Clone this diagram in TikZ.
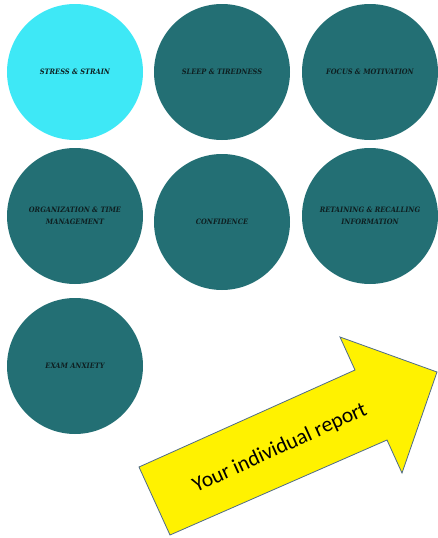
\documentclass[tikz,border=0pt]{standalone}
\usepackage{fontspec}
\setmainfont{DejaVu Serif Condensed}
\newfontfamily\arrowfont{Carlito}
\definecolor{topiclight}{HTML}{3EE8F6}
\definecolor{topicdark}{HTML}{236F74}
\definecolor{topictext}{HTML}{0E1F21}
\definecolor{arrowedge}{HTML}{4F6B88}

\begin{document}
\begin{tikzpicture}[x=1pt,y=-1pt,
        topic/.style={circle,fill=topicdark,minimum size=136pt,inner sep=0pt,align=center,
            text=topictext,font=\fontsize{7.4}{12}\selectfont\bfseries\itshape},
        current/.style={topic,fill=topiclight}]
                \useasboundingbox (0,0) rectangle (437,538);
                \node[current] (stress) at (75,72) {STRESS \& STRAIN};
                \node[topic] (sleep) at (222,72) {SLEEP \& TIREDNESS};
                \node[topic] (focus) at (370,72) {FOCUS \& MOTIVATION};
                \node[topic] (organize) at (75,216) {ORGANIZATION \& TIME\\MANAGEMENT};
                \node[topic] (confidence) at (222,222) {CONFIDENCE};
                \node[topic] (retain) at (370,216) {RETAINING \& RECALLING\\INFORMATION};
                \node[topic] (anxiety) at (75,366) {EXAM ANXIETY};
                \draw[fill=yellow,draw=arrowedge,line width=0.8pt] (170,535) -- (139,467) -- (355,370)
                    -- (340,337) -- (437,372) -- (402,473) -- (387,440) -- cycle;
                \node[rotate=24.5,font=\arrowfont\fontsize{21.5}{22}\selectfont] (report) at (280,448) {Your individual report};
            \end{tikzpicture}
\end{document}
